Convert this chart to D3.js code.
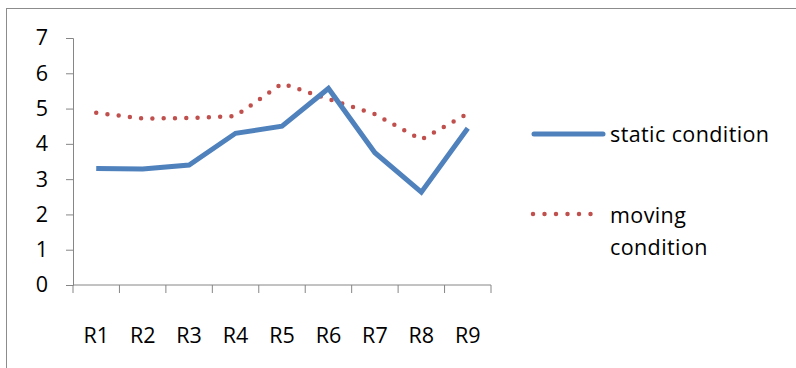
<!DOCTYPE html>
<html><head><meta charset="utf-8">
<script src="https://cdn.jsdelivr.net/npm/d3@7"></script>
<style>body{margin:0;background:#fff}svg{display:block}</style>
</head><body>
<svg id="c" width="796" height="368"></svg>
<script>
const categories = ["R1","R2","R3","R4","R5","R6","R7","R8","R9"];
const staticValues = [3.3, 3.29, 3.4, 4.3, 4.5, 5.57, 3.75, 2.63, 4.44];
const movingValues = [4.88, 4.72, 4.73, 4.79, 5.71, 5.27, 4.84, 4.12, 4.86];
const yTicks = [0,1,2,3,4,5,6,7];
const seriesNames = ["static condition", "moving condition"];

const svg = d3.select("#c");
const font = "'Open Sans', sans-serif";
const fs = 21.5;
svg.append("rect").attr("x",6.5).attr("y",8.5).attr("width",800).attr("height",370)
  .attr("fill","#fff").attr("stroke","#8c8c8c").attr("stroke-width",1);

const x = d3.scaleBand().domain(categories).range([73,491]);
const y = d3.scaleLinear().domain([0,7]).range([285,38]);

const yAxis = svg.append("g").attr("transform","translate(73,0)")
  .call(d3.axisLeft(y).tickValues(yTicks).tickSize(7).tickPadding(18).tickFormat(d3.format("d")));
yAxis.select(".domain").attr("stroke","#868686");
yAxis.selectAll(".tick line").attr("stroke","#868686");
yAxis.selectAll("text").attr("font-family",font).attr("font-size",fs).attr("fill","#000");

const xAxis = svg.append("g").attr("transform","translate(0,285)")
  .call(d3.axisBottom(x).tickSize(0).tickPadding(43));
xAxis.select(".domain").attr("stroke","#868686").attr("d","M73,0H491");
xAxis.selectAll("text").attr("font-family",font).attr("font-size",fs).attr("fill","#000").attr("dy",null);
const edges = categories.map(c=>x(c)).concat([x.range()[1]]);
xAxis.selectAll(".edge").data(edges).enter().append("line")
  .attr("x1",d=>d).attr("x2",d=>d).attr("y1",0).attr("y2",8).attr("stroke","#868686");
xAxis.selectAll(".tick text").attr("y",58);

const cx = d => x(d) + x.bandwidth()/2;
const line = d3.line().x((d,i)=>cx(categories[i])).y(d=>y(d));

svg.append("path").datum(movingValues).attr("d",line).attr("fill","none")
  .attr("stroke","#C0504D").attr("stroke-width",4.5).attr("stroke-linecap","round")
  .attr("stroke-dasharray","0,11.3");
svg.append("path").datum(staticValues).attr("d",line).attr("fill","none")
  .attr("stroke","#4F81BD").attr("stroke-width",5).attr("stroke-linejoin","miter");

// legend
const lg = svg.append("g");
const tstyle = s => s.attr("font-family",font).attr("font-size",fs).attr("fill","#000").attr("letter-spacing",0.4);
lg.append("line").attr("x1",534).attr("x2",603).attr("y1",134).attr("y2",134)
  .attr("stroke","#4F81BD").attr("stroke-width",5).attr("stroke-linecap","round");
lg.append("text").attr("x",610).attr("y",142).text(seriesNames[0]).call(tstyle);
lg.append("line").attr("x1",533).attr("x2",595).attr("y1",214).attr("y2",214)
  .attr("stroke","#C0504D").attr("stroke-width",4.5).attr("stroke-linecap","round")
  .attr("stroke-dasharray","0,11.5");
const t2 = lg.append("text").attr("x",610).attr("y",223).call(tstyle);
t2.append("tspan").attr("x",610).text("moving");
t2.append("tspan").attr("x",610).attr("dy",32).text("condition");
</script>
</body></html>
